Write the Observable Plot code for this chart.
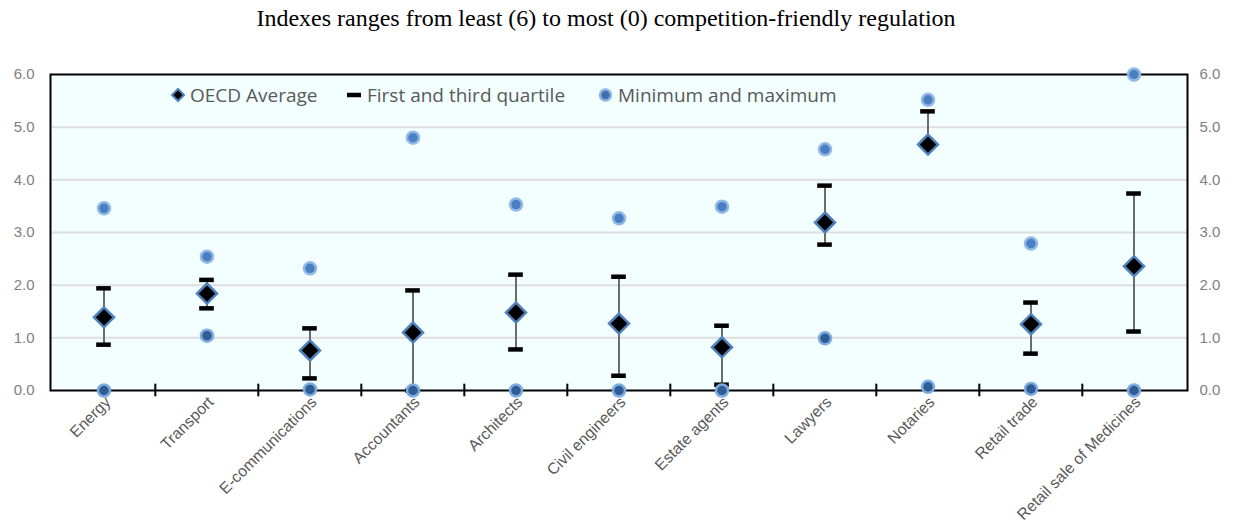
<!DOCTYPE html>
<html>
<head>
<meta charset="utf-8">
<script src="https://cdn.jsdelivr.net/npm/d3@7"></script>
<script src="https://cdn.jsdelivr.net/npm/@observablehq/plot@0.6"></script>
<style>
  body { margin: 0; background: #fff; }
  #wrap { position: relative; width: 1237px; height: 529px; }
  #title { position: absolute; top: 5px; left: 0; width: 1212px; text-align: center;
           font-family: "Liberation Serif", "Times New Roman", serif; font-size: 24px; color: #000; }
  #chart { position: absolute; top: 40px; left: 0; }
  .leg { position: absolute; top: 83px; font-family: "Open Sans", sans-serif; font-size: 19px; color: #595959;
         display: flex; align-items: center; white-space: nowrap; line-height: 24px; }
  .leg svg { margin-right: 4px; }
</style>
</head>
<body>
<div id="wrap">
  <div id="title">Indexes ranges from least (6) to most (0) competition-friendly regulation</div>
  <div id="chart"></div>
</div>
<script>
const categories = ["Energy", "Transport", "E-communications", "Accountants", "Architects", "Civil engineers", "Estate agents", "Lawyers", "Notaries", "Retail trade", "Retail sale of Medicines"];
const average  = [1.39, 1.84, 0.76, 1.10, 1.48, 1.27, 0.82, 3.19, 4.67, 1.26, 2.36];
const q1       = [0.87, 1.56, 0.23, 0.00, 0.78, 0.28, 0.11, 2.77, 4.67, 0.70, 1.12];
const q3       = [1.94, 2.10, 1.18, 1.90, 2.20, 2.16, 1.23, 3.89, 5.30, 1.67, 3.74];
const minimum  = [0.00, 1.04, 0.02, 0.00, 0.00, 0.00, 0.00, 0.99, 0.07, 0.03, 0.00];
const maximum  = [3.46, 2.54, 2.32, 4.80, 3.53, 3.27, 3.49, 4.58, 5.52, 2.79, 6.00];
const yTicks = [0, 1, 2, 3, 4, 5, 6];

const rows = categories.map((c, i) => ({cat: c, avg: average[i], q1: q1[i], q3: q3[i], min: minimum[i], max: maximum[i]}));

const W = 1237, H = 489, ML = 50, MR = 50, MT = 34, MB = 139;
const bw = (W - ML - MR) / categories.length;
const capLen = 15;

const chart = Plot.plot({
  width: W, height: H,
  marginLeft: ML, marginRight: MR, marginTop: MT, marginBottom: MB,
  style: {fontFamily: "Liberation Sans, Arial, sans-serif", background: "transparent"},
  x: {type: "band", domain: categories, padding: 0, label: null},
  y: {domain: [0, 6], label: null},
  marks: [
    Plot.frame({fill: "#f3feff", stroke: null}),
    Plot.ruleY(yTicks.slice(1, -1), {stroke: "#dedede", strokeWidth: 2}),
    Plot.frame({stroke: "#000", strokeWidth: 2}),
    Plot.ruleX(categories.slice(1), {x: d => d, dx: -bw / 2, y1: -0.12, y2: 0.12, stroke: "#000", strokeWidth: 2}),
    Plot.axisY(yTicks, {anchor: "left", tickSize: 0, tickPadding: 16, tickFormat: d3.format(".1f"), fill: "#808080", fontSize: 15}),
    Plot.axisY(yTicks, {anchor: "right", tickSize: 0, tickPadding: 12, tickFormat: d3.format(".1f"), fill: "#808080", fontSize: 15}),
    Plot.axisX({tickSize: 0, tickRotate: -45, tickPadding: 9, dx: 4, fill: "#595959", fontSize: 15.8}),
    Plot.ruleX(rows, {x: "cat", y1: "q1", y2: "q3", stroke: "#6b6b6b", strokeWidth: 2}),
    Plot.tickY(rows, {x: "cat", y: "q1", stroke: "#000", strokeWidth: 4.5, inset: (bw - capLen) / 2}),
    Plot.tickY(rows, {x: "cat", y: "q3", stroke: "#000", strokeWidth: 4.5, inset: (bw - capLen) / 2}),
    Plot.dot(rows, {x: "cat", y: "avg", symbol: "diamond2", r: 9, fill: "#000", stroke: "#4f81bd", strokeWidth: 2.5}),
    Plot.dot(rows, {x: "cat", y: "min", r: 6, fill: "#2f5c94", stroke: "#7eabe0", strokeWidth: 2.5}),
    Plot.dot(rows, {x: "cat", y: "max", r: 6, fill: "#4a80c2", stroke: "#92b9e6", strokeWidth: 2.5})
  ]
});
document.getElementById("chart").appendChild(chart);

// legend
const wrap = document.getElementById("wrap");
const legendItems = [
  {label: "OECD Average", left: 170, icon: '<svg width="16" height="16"><path d="M8 2 L14 8 L8 14 L2 8 Z" fill="#000" stroke="#4f81bd" stroke-width="2"/></svg>'},
  {label: "First and third quartile", left: 345, icon: '<svg width="18" height="16"><line x1="2" y1="8" x2="16" y2="8" stroke="#000" stroke-width="4.5"/></svg>'},
  {label: "Minimum and maximum", left: 597, icon: '<svg width="17" height="16"><circle cx="8.5" cy="8" r="5.5" fill="#3f70ad" stroke="#8db5e4" stroke-width="2.5"/></svg>'}
];
legendItems.forEach(it => {
  const d = document.createElement("div");
  d.className = "leg";
  d.style.left = it.left + "px";
  d.innerHTML = it.icon + "<span>" + it.label + "</span>";
  wrap.appendChild(d);
});
</script>
</body>
</html>
